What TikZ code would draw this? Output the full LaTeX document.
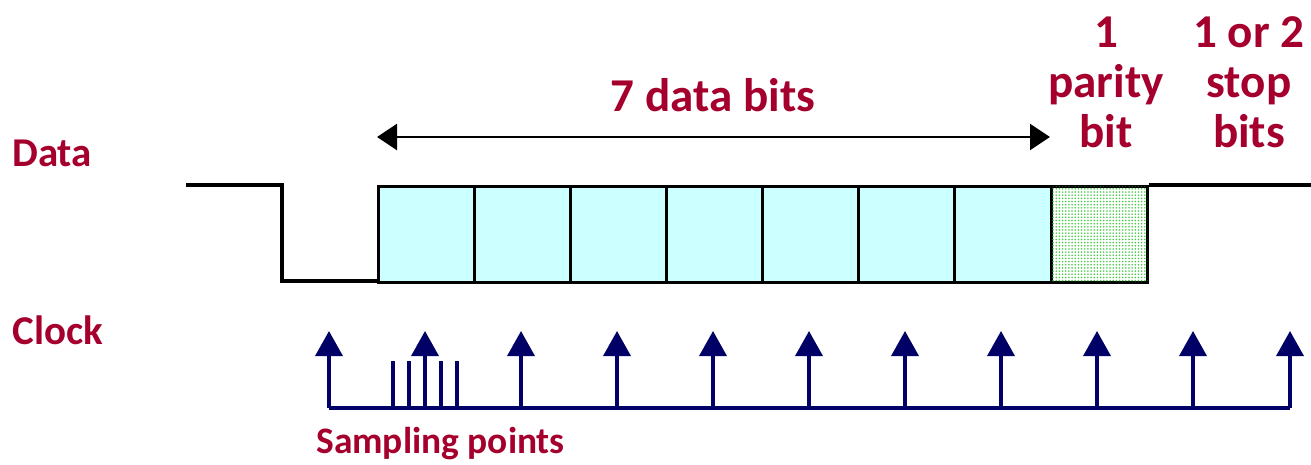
\documentclass[tikz,border=0pt]{standalone}
\usepackage{fontspec}
\setmainfont{Carlito}
\usetikzlibrary{arrows.meta, patterns.meta}
\definecolor{labelred}{HTML}{A5002D}
\definecolor{clocknavy}{HTML}{000066}
\definecolor{bitcyan}{HTML}{CCFFFF}
\definecolor{paritygreen}{HTML}{44CC44}

\begin{document}
\begin{tikzpicture}[
    x=0.02cm, y=-0.02cm,
    % ── Text styles ──────────────────────────────────────────────────────
    biglabel/.style={
        font=\fontsize{26.8}{28.4}\selectfont\bfseries,
        text=labelred, align=center, inner sep=0pt
    },
    sidelabel/.style={
        font=\fontsize{23.3}{26}\selectfont\bfseries,
        text=labelred, anchor=west, inner sep=0pt
    },
    % ── Signal styles ────────────────────────────────────────────────────
    bitcell/.style={
        draw=black, fill=bitcyan, line width=1.5pt,
        minimum width=1.92cm, minimum height=1.92cm,
        inner sep=0pt, anchor=north west
    },
    paritycell/.style={
        bitcell, fill=white,
        postaction={pattern={Dots[distance=1.8pt, radius=0.5pt]},
                    pattern color=paritygreen}
    },
    wave/.style={line width=2pt, black},
    span/.style={
        {Triangle[length=0.4cm, width=0.52cm]}-{Triangle[length=0.4cm, width=0.52cm]},
        line width=1.4pt, black
    },
    clk/.style={
        -{Triangle[length=0.5cm, width=0.54cm]},
        line width=2pt, clocknavy
    },
    tick/.style={line width=2pt, clocknavy}
]
\useasboundingbox (0,0) rectangle (1311,464);

% Data waveform
\coordinate (idle) at (186,185);
\coordinate (startdn) at (282,281);
\draw[wave] (idle) -- (282,185) -- (startdn) -- (377,281);
\foreach \i in {1,...,7}
    \node[bitcell] (bit\i) at ({377+(\i-1)*96.1},185) {};
\node[paritycell] (parity) at (1050,185) {};
\coordinate (stopend) at (1311,185);
\draw[wave] (parity.north east) -- (stopend);

% Span of the data bits
\coordinate (spanL) at (377,137);
\coordinate (spanR) at (1050,137);
\draw[span] (spanL) -- (spanR);

% Labels
\node[biglabel] (databits) at (713,95) {7 data bits};
\node[biglabel] (paritylbl) at (1106,82) {1\\parity\\bit};
\node[biglabel] (stoplbl) at (1249,82) {1 or 2\\stop\\bits};
\node[sidelabel] (datalbl) at (12,153) {Data};
\node[sidelabel] (clocklbl) at (12,330) {Clock};
\node[sidelabel, font=\fontsize{21.3}{24}\selectfont\bfseries]
    (samplbl) at (316,444) {Sampling points};

% Clock ticks
\coordinate (clkL) at (329,408);
\coordinate (clkR) at (1290,408);
\draw[tick] (clkL) -- (clkR);
\foreach \x in {329,425,521,617,713,809,905,1001,1097,1193,1290}
    \draw[clk] (\x,408) -- (\x,331);
\foreach \x in {393,409,441,457}
    \draw[tick] (\x,408) -- (\x,361);

\end{tikzpicture}
\end{document}
